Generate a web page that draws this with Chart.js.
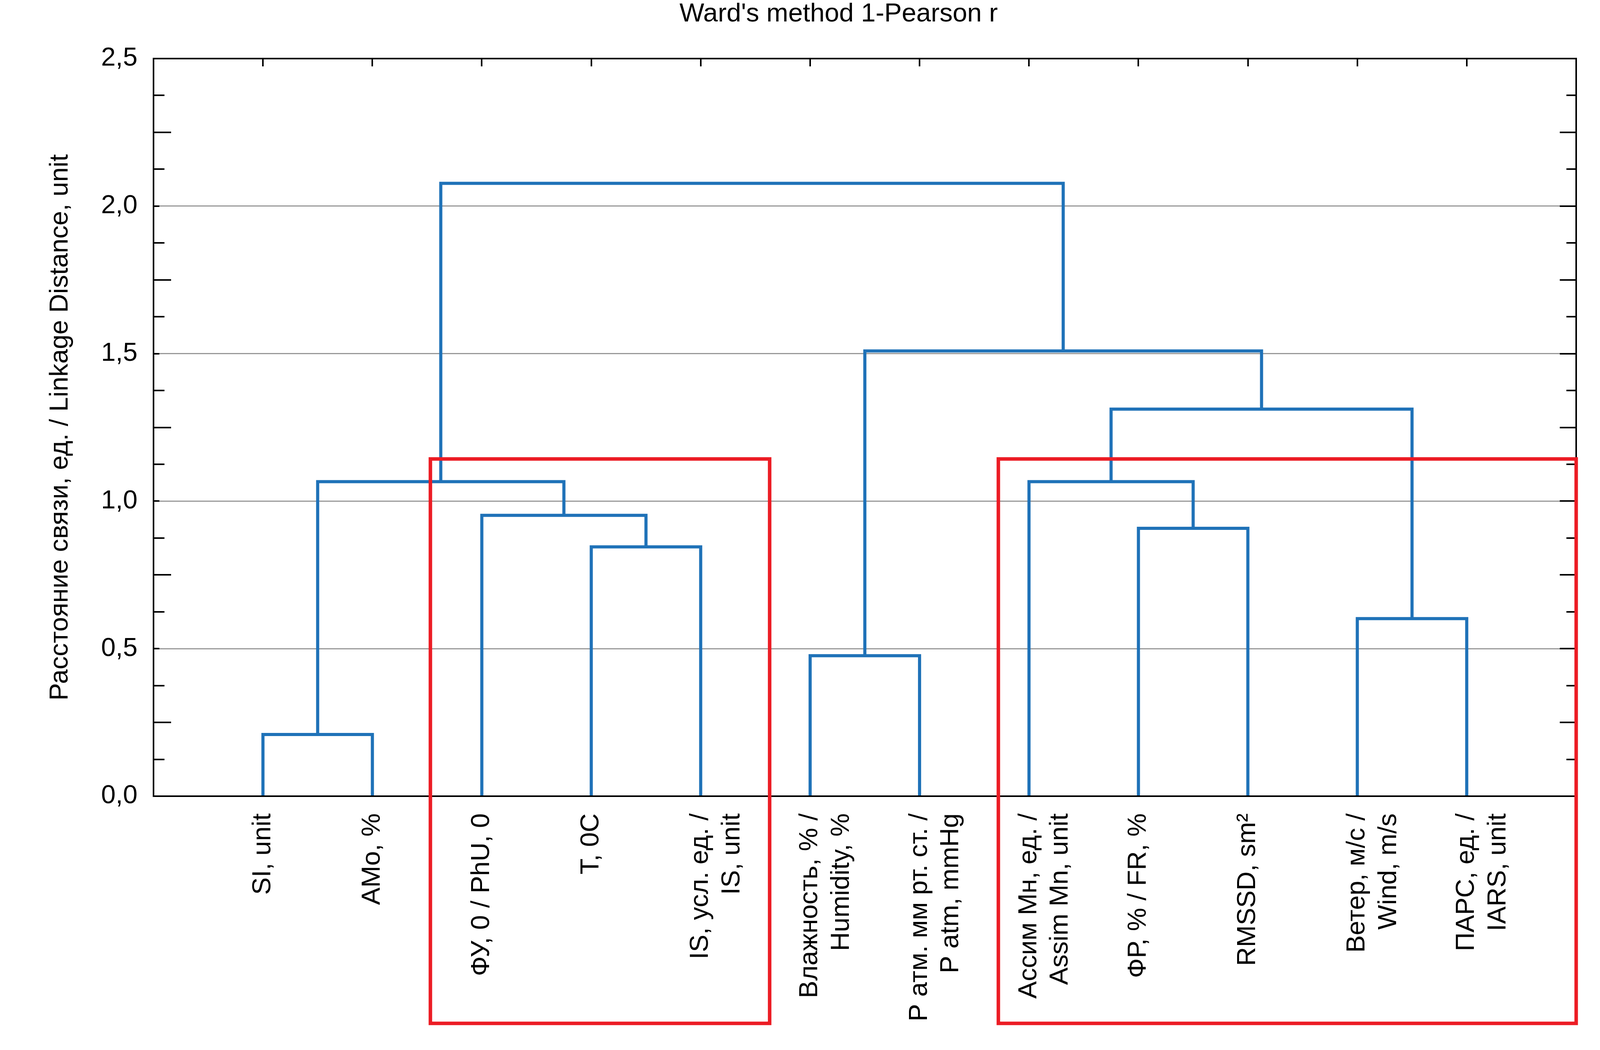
<!DOCTYPE html>
<html>
<head>
<meta charset="utf-8">
<title>Ward's method 1-Pearson r</title>
<script src="https://cdn.jsdelivr.net/npm/chart.js@4.4.1/dist/chart.umd.min.js"></script>
<style>
    html, body { margin: 0; padding: 0; background: #fff; }
    #wrap { width: 4157px; height: 2689px; }
</style>
</head>
<body>
<div id="wrap"><canvas id="dendro"></canvas></div>
<script>
const chartTitle = "Ward's method 1-Pearson r";
const yTitle = "Расстояние связи, ед. / Linkage Distance, unit";

// leaves, left to right
const leafLabels = [
    "SI, unit",
    "AMo, %",
    "ФУ, 0 / PhU, 0",
    "T, 0C",
    ["IS, усл. ед. /", "IS, unit"],
    ["Влажность, % /", "Humidity, %"],
    ["Р атм. мм рт. ст. /", "P atm, mmHg"],
    ["Ассим Мн, ед. /", "Assim Mn, unit"],
    "ФР, % / FR, %",
    "RMSSD, sm²",
    ["Ветер, м/с /", "Wind, m/s"],
    ["ПАРС, ед. /", "IARS, unit"]
];

// merges: node ids 0..11 are leaves, 12.. are the merges in this order
const mergeLeft = [0, 3, 2, 12, 5, 8, 7, 10, 18, 16, 15];
const mergeRight = [1, 4, 13, 14, 6, 9, 17, 11, 19, 20, 21];
const mergeHeight = [0.209, 0.845, 0.952, 1.066, 0.476, 0.908, 1.066, 0.602, 1.312, 1.509, 2.077];

const yTicks = [0, 0.5, 1.0, 1.5, 2.0, 2.5];

// red highlight boxes (data units)
const boxLeft = [2.53, 7.72];
const boxRight = [5.63, 13.0];
const boxTop = [1.143, 1.143];
const boxBottom = [-0.77, -0.77];

const FONT = "'Liberation Sans', Arial, sans-serif";
const FS = 67;

function buildLinks() {
    const nodeX = leafLabels.map((l, i) => i + 1);
    const nodeH = leafLabels.map(() => 0);
    const pts = [];
    mergeLeft.forEach((a, i) => {
        const b = mergeRight[i];
        const h = mergeHeight[i];
        pts.push({x: nodeX[a], y: nodeH[a]});
        pts.push({x: nodeX[a], y: h});
        pts.push({x: nodeX[b], y: h});
        pts.push({x: nodeX[b], y: nodeH[b]});
        pts.push({x: nodeX[b], y: null});
        nodeX.push((nodeX[a] + nodeX[b]) / 2);
        nodeH.push(h);
    });
    return pts;
}

const framePlugin = {
    id: "frame",
    afterDatasetsDraw(chart) {
        const ctx = chart.ctx;
        const a = chart.chartArea;
        const x = chart.scales.x, y = chart.scales.y;
        ctx.save();
        ctx.strokeStyle = "#000";
        ctx.lineCap = "butt";

        // minor / major ticks on left and right
        ctx.lineWidth = 4;
        for (let v = 0.125; v < 2.5; v += 0.125) {
            const py = Math.round(y.getPixelForValue(v));
            const k = Math.round(v / 0.125);
            let lenL, lenR;
            if (k % 4 === 0) { lenL = 15; lenR = 42; }
            else if (k % 2 === 0) { lenL = 45; lenR = 42; }
            else { lenL = 28; lenR = 25; }
            ctx.beginPath();
            ctx.moveTo(a.left, py); ctx.lineTo(a.left + lenL, py);
            ctx.moveTo(a.right, py); ctx.lineTo(a.right - lenR, py);
            ctx.stroke();
        }
        // top ticks at leaves
        leafLabels.forEach((l, i) => {
            const px = Math.round(x.getPixelForValue(i + 1));
            ctx.beginPath();
            ctx.moveTo(px, a.top); ctx.lineTo(px, a.top + 20);
            ctx.stroke();
        });

        // frame
        ctx.lineWidth = 4;
        ctx.strokeRect(a.left, a.top, a.right - a.left, a.bottom - a.top);
        ctx.restore();
    },
    afterDraw(chart) {
        const ctx = chart.ctx;
        const x = chart.scales.x, y = chart.scales.y;
        ctx.save();
        // red boxes
        ctx.strokeStyle = "#ec1c24";
        ctx.lineWidth = 9;
        boxLeft.forEach((bl, i) => {
            const l = x.getPixelForValue(bl), r = x.getPixelForValue(boxRight[i]);
            const t = y.getPixelForValue(boxTop[i]), b = y.getPixelForValue(boxBottom[i]);
            ctx.strokeRect(l, t, r - l, b - t);
        });
        // title, centred over frame + tick labels
        ctx.font = FS + "px " + FONT;
        const labW = ctx.measureText("2,5").width;
        const left = chart.chartArea.left - 41 - labW;
        ctx.fillStyle = "#000";
        ctx.textAlign = "center";
        ctx.textBaseline = "middle";
        ctx.fillText(chartTitle, (left + chart.chartArea.right) / 2, 37);
        ctx.restore();
    }
};

window.addEventListener("load", () => {
    new Chart(document.getElementById("dendro"), {
        type: "line",
        data: {
            datasets: [{
                data: buildLinks(),
                borderColor: "#1f72b8",
                borderWidth: 8,
                pointRadius: 0,
                fill: false,
                tension: 0,
                spanGaps: false,
                borderJoinStyle: "miter",
                borderCapStyle: "butt"
            }]
        },
        options: {
            responsive: true,
            maintainAspectRatio: false,
            animation: false,
            devicePixelRatio: 1,
            layout: {padding: {top: 150, right: 122, left: 0, bottom: 0}},
            plugins: {
                legend: {display: false},
                tooltip: {enabled: false},
                title: {display: false}
            },
            scales: {
                x: {
                    type: "linear",
                    min: 0,
                    max: 13,
                    afterBuildTicks: s => { s.ticks = leafLabels.map((l, i) => ({value: i + 1})); },
                    afterFit: s => { s.height = 650; },
                    grid: {display: false, drawTicks: false},
                    border: {display: false},
                    ticks: {
                        autoSkip: false,
                        maxRotation: 90,
                        minRotation: 90,
                        padding: 44,
                        color: "#000",
                        font: {family: FONT, size: FS, lineHeight: 1.2},
                        callback: v => leafLabels[v - 1]
                    }
                },
                y: {
                    type: "linear",
                    min: 0,
                    max: 2.5,
                    afterBuildTicks: s => { s.ticks = yTicks.map(v => ({value: v})); },
                    afterFit: s => { s.width = 393; },
                    grid: {color: "#999", lineWidth: 3, drawTicks: false},
                    border: {display: false},
                    ticks: {
                        padding: 41,
                        color: "#000",
                        font: {family: FONT, size: FS},
                        callback: v => v.toFixed(1).replace(".", ",")
                    },
                    title: {
                        display: true,
                        text: yTitle,
                        color: "#000",
                        font: {family: FONT, size: FS},
                        padding: {top: 114, bottom: 0}
                    }
                }
            }
        },
        plugins: [framePlugin]
    });
});
</script>
</body>
</html>
